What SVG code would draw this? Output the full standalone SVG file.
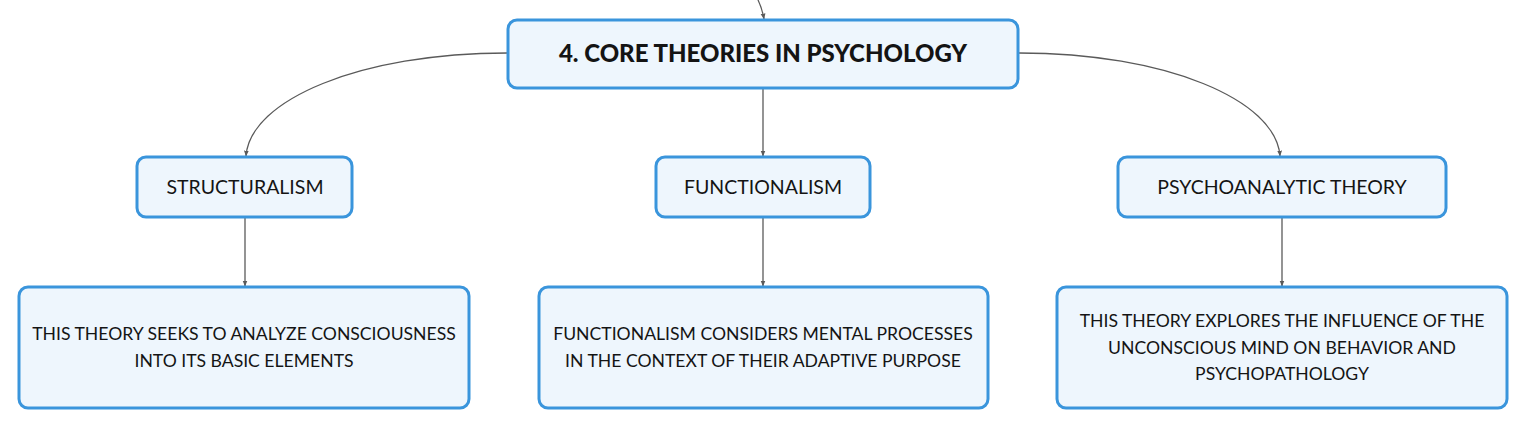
<svg xmlns="http://www.w3.org/2000/svg" width="1527" height="429" viewBox="0 0 1527 429">
<style>
.box{fill:#eef6fd;stroke:#3a95dc;stroke-width:3}
.t{font-family:Lato,"Noto Sans",sans-serif;fill:#141414;text-anchor:middle}
.root{font-size:24px;font-weight:900}
.sub{font-size:19.5px}
.desc{font-size:17.6px}
.c{fill:none;stroke:#5a5a5a;stroke-width:1.3;marker-end:url(#ah)}
</style>
<defs>
<marker id="ah" viewBox="0 0 10 10" refX="9" refY="5" markerWidth="6" markerHeight="6" orient="auto" markerUnits="userSpaceOnUse">
<path d="M0,1 L10,5 L0,9 z" fill="#5a5a5a"/>
</marker>
</defs>
<g id="connectors">
<path class="c" d="M758,0 Q762,8 764,19"/>
<path class="c" d="M507,53 C360,53 250,100 246,156"/>
<path class="c" d="M1019,53 C1166,53 1276,100 1280,156"/>
<path class="c" d="M763,88 L763,156"/>
<path class="c" d="M245,218 L245,286"/>
<path class="c" d="M763,218 L763,286"/>
<path class="c" d="M1282,218 L1282,286"/>
</g>
<g id="root">
<rect class="box" x="508" y="20" width="510" height="68" rx="9"/>
<text class="t root" x="763" y="62">4. CORE THEORIES IN PSYCHOLOGY</text>
</g>
<g id="structuralism">
<rect class="box" x="137" y="157" width="215" height="60" rx="9"/>
<text class="t sub" x="245" y="194">STRUCTURALISM</text>
</g>
<g id="functionalism">
<rect class="box" x="656" y="157" width="214" height="60" rx="9"/>
<text class="t sub" x="763" y="194">FUNCTIONALISM</text>
</g>
<g id="psychoanalytic">
<rect class="box" x="1118" y="157" width="328" height="60" rx="9"/>
<text class="t sub" x="1282" y="194">PSYCHOANALYTIC THEORY</text>
</g>
<g id="structuralism-desc">
<rect class="box" x="19" y="287" width="450" height="121" rx="9"/>
<text class="t desc" x="244" y="340">THIS THEORY SEEKS TO ANALYZE CONSCIOUSNESS</text>
<text class="t desc" x="244" y="367">INTO ITS BASIC ELEMENTS</text>
</g>
<g id="functionalism-desc">
<rect class="box" x="539" y="287" width="449" height="121" rx="9"/>
<text class="t desc" x="763" y="340">FUNCTIONALISM CONSIDERS MENTAL PROCESSES</text>
<text class="t desc" x="763" y="367">IN THE CONTEXT OF THEIR ADAPTIVE PURPOSE</text>
</g>
<g id="psychoanalytic-desc">
<rect class="box" x="1057" y="287" width="450" height="121" rx="9"/>
<text class="t desc" x="1282" y="327">THIS THEORY EXPLORES THE INFLUENCE OF THE</text>
<text class="t desc" x="1282" y="354">UNCONSCIOUS MIND ON BEHAVIOR AND</text>
<text class="t desc" x="1282" y="380">PSYCHOPATHOLOGY</text>
</g>
</svg>
